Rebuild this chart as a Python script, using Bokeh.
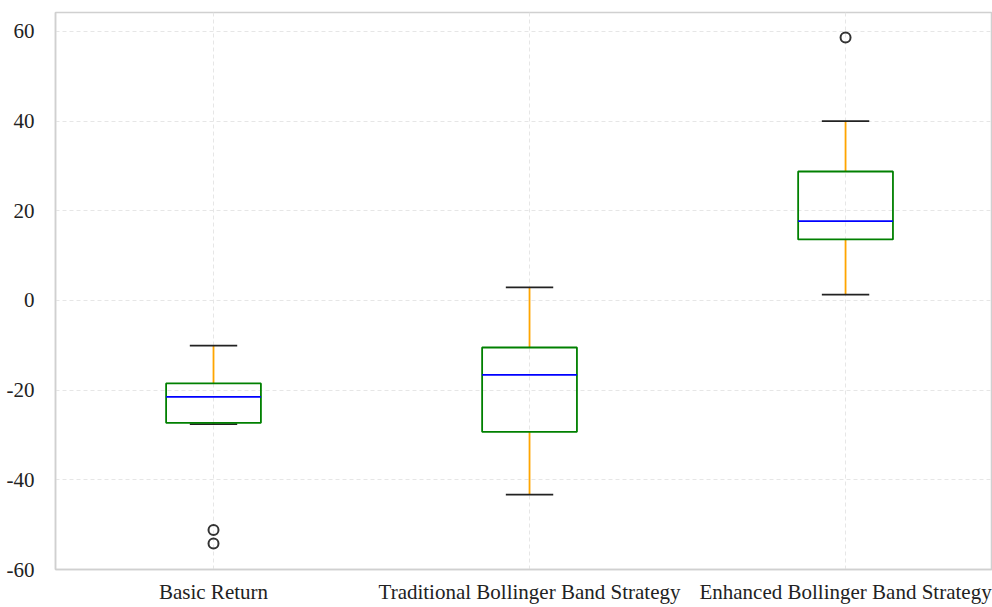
from bokeh.plotting import figure
from bokeh.models import FixedTicker, Range1d, ColumnDataSource
from bokeh.transform import dodge
from bokeh.embed import file_html
from bokeh.resources import INLINE

categories = ["Basic Return", "Traditional Bollinger Band Strategy", "Enhanced Bollinger Band Strategy"]
lower_whisker = [-27.6, -43.3, 1.3]
q1 = [-27.3, -29.3, 13.6]
median = [-21.5, -16.6, 17.7]
q3 = [-18.5, -10.5, 28.75]
upper_whisker = [-10.1, 2.9, 40.0]
outlier_cat = ["Basic Return", "Basic Return", "Enhanced Bollinger Band Strategy"]
outlier_val = [-51.2, -54.2, 58.6]
y_ticks = [-60, -40, -20, 0, 20, 40, 60]
y_tick_labels = ["-60", "-40", "-20", "0", "20", "40", "60"]

pos = {c: i + 1 for i, c in enumerate(categories)}
xs = [pos[c] for c in categories]

p = figure(width=992, height=607, output_backend="svg", toolbar_location=None,
           x_range=Range1d(0.5, 3.465), y_range=Range1d(-60, 64.2),
           min_border_left=55, min_border_right=0, min_border_top=12, min_border_bottom=38)

src = ColumnDataSource(dict(x=xs, lw=lower_whisker, q1=q1, med=median, q3=q3, uw=upper_whisker))

bw = 0.3
cw = 0.15
lw_ = 1.8
# whiskers
p.segment(x0="x", y0="q3", x1="x", y1="uw", source=src, line_color="orange", line_width=lw_)
p.segment(x0="x", y0="q1", x1="x", y1="lw", source=src, line_color="orange", line_width=lw_)
# caps
p.segment(x0=dodge("x", -cw / 2), y0="uw", x1=dodge("x", cw / 2), y1="uw", source=src, line_color="#222222", line_width=lw_)
p.segment(x0=dodge("x", -cw / 2), y0="lw", x1=dodge("x", cw / 2), y1="lw", source=src, line_color="#222222", line_width=lw_)
# boxes
p.quad(left=dodge("x", -bw / 2), right=dodge("x", bw / 2), bottom="q1", top="q3", source=src,
       fill_color=None, line_color="green", line_width=lw_)
# medians
p.segment(x0=dodge("x", -bw / 2), y0="med", x1=dodge("x", bw / 2), y1="med", source=src, line_color="blue", line_width=lw_)
# outliers
p.scatter([pos[c] for c in outlier_cat], outlier_val, size=10, fill_color=None, line_color="#333333", line_width=2)

p.xaxis.ticker = FixedTicker(ticks=xs)
p.xaxis.major_label_overrides = {pos[c]: c for c in categories}
p.yaxis.ticker = FixedTicker(ticks=y_ticks)
p.yaxis.major_label_overrides = dict(zip(y_ticks, y_tick_labels))

for ax in (p.xaxis, p.yaxis):
    ax.major_tick_line_color = None
    ax.minor_tick_line_color = None
    ax.axis_line_color = "#d0d0d0"
    ax.axis_line_width = 1.5
    ax.major_label_text_font = "Liberation Serif"
    ax.major_label_text_font_size = "21px"
    ax.major_label_text_color = "#222222"
p.yaxis.major_label_standoff = 15
p.xaxis.major_label_standoff = 4

p.outline_line_color = "#d0d0d0"
p.outline_line_width = 1.5
p.xgrid.grid_line_color = "#e6e6e6"
p.ygrid.grid_line_color = "#e6e6e6"
p.xgrid.grid_line_dash = "4 3"
p.ygrid.grid_line_dash = "4 3"
p.xgrid.grid_line_width = 1
p.ygrid.grid_line_width = 1
p.background_fill_color = "white"
p.border_fill_color = "white"

open("out.html", "w").write(file_html(p, INLINE))
